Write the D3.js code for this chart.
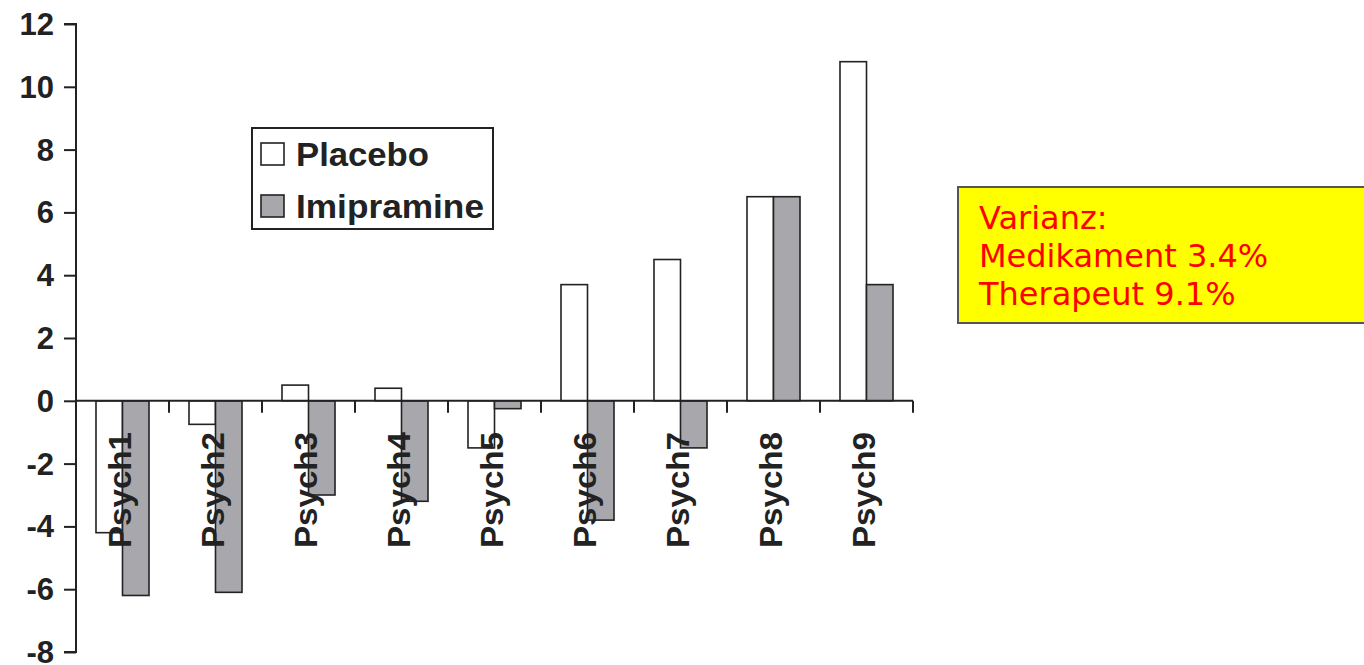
<!DOCTYPE html>
<html>
<head>
<meta charset="utf-8">
<script src="https://cdn.jsdelivr.net/npm/d3@7"></script>
<style>
  body { margin: 0; background: #fff; }
  svg { display: block; }
</style>
</head>
<body>
<div id="chart"></div>
<script>
// data
const categories = ["Psych1", "Psych2", "Psych3", "Psych4", "Psych5", "Psych6", "Psych7", "Psych8", "Psych9"];
const placebo    = [-4.2, -0.75, 0.5, 0.4, -1.5, 3.7, 4.5, 6.5, 10.8];
const imipramine = [-6.2, -6.1, -3.0, -3.2, -0.25, -3.8, -1.5, 6.5, 3.7];
const yTicks = [12, 10, 8, 6, 4, 2, 0, -2, -4, -6, -8];
const seriesNames = ["Placebo", "Imipramine"];
const noteLines = ["Varianz:", "Medikament 3.4%", "Therapeut 9.1%"];

const width = 1364, height = 665;
const colPlacebo = "#ffffff", colImi = "#a8a8ac";

const svg = d3.select("#chart")
  .append("svg")
  .attr("width", width)
  .attr("height", height);

const y = d3.scaleLinear().domain([-8, 12]).range([652, 24]);
const x = d3.scaleBand().domain(categories).range([76, 913]).padding(0);
const barW = x.bandwidth() * 0.285;

// y axis (plain hyphen for negatives, like the original)
const yAxis = svg.append("g")
  .attr("transform", "translate(76,0)")
  .call(d3.axisLeft(y).tickValues(yTicks).tickSize(12).tickPadding(10).tickFormat(d => String(d)));
yAxis.select(".domain").attr("stroke", "#222").attr("stroke-width", 2).attr("d", "M-12," + y(12) + "H0V" + y(-8) + "H-12");
yAxis.selectAll(".tick line").attr("stroke", "#222").attr("stroke-width", 2);
yAxis.selectAll(".tick text")
  .attr("font-family", "Liberation Sans, Arial, sans-serif")
  .attr("font-weight", "bold")
  .attr("font-size", 31)
  .attr("fill", "#222")
  .attr("dy", "0.34em");

// bars
const rows = categories.map((c, i) => ({ c, p: placebo[i], m: imipramine[i] }));

svg.append("g").selectAll("rect")
  .data(rows)
  .join("rect")
  .attr("x", d => x(d.c) + x.bandwidth() / 2 - barW)
  .attr("y", d => y(Math.max(0, d.p)))
  .attr("width", barW)
  .attr("height", d => Math.abs(y(d.p) - y(0)))
  .attr("fill", colPlacebo)
  .attr("stroke", "#222")
  .attr("stroke-width", 1.6);

svg.append("g").selectAll("rect")
  .data(rows)
  .join("rect")
  .attr("x", d => x(d.c) + x.bandwidth() / 2)
  .attr("y", d => y(Math.max(0, d.m)))
  .attr("width", barW)
  .attr("height", d => Math.abs(y(d.m) - y(0)))
  .attr("fill", colImi)
  .attr("stroke", "#222")
  .attr("stroke-width", 1.6);

// x axis at zero, ticks pointing down between categories
const xAxis = svg.append("g").attr("transform", "translate(0," + y(0) + ")");
xAxis.append("line")
  .attr("x1", 76).attr("x2", 913)
  .attr("stroke", "#222").attr("stroke-width", 2);
xAxis.selectAll(".xt")
  .data(categories.slice(1).map(c => x(c)).concat([913]))
  .join("line")
  .attr("class", "xt")
  .attr("x1", d => d).attr("x2", d => d)
  .attr("y1", 0).attr("y2", 12)
  .attr("stroke", "#222").attr("stroke-width", 2);

// rotated category labels
svg.append("g").selectAll("text")
  .data(categories)
  .join("text")
  .attr("transform", d => "translate(" + (x(d) + x.bandwidth() / 2 + 8) + ",548) rotate(-90)")
  .attr("text-anchor", "start")
  .attr("font-family", "Liberation Sans, Arial, sans-serif")
  .attr("font-weight", "bold")
  .attr("font-size", 31)
  .attr("fill", "#222")
  .attr("textLength", 116)
  .attr("lengthAdjust", "spacingAndGlyphs")
  .text(d => d);

// legend
const legend = svg.append("g");
legend.append("rect")
  .attr("x", 252).attr("y", 128).attr("width", 241).attr("height", 101)
  .attr("fill", "#fff").attr("stroke", "#222").attr("stroke-width", 2);
const legWidths = [133, 188];
const legItems = legend.selectAll("g.li")
  .data(seriesNames)
  .join("g")
  .attr("class", "li")
  .attr("transform", (d, i) => "translate(0," + (i * 52) + ")");
legItems.append("rect")
  .attr("x", 261).attr("y", 143).attr("width", 23).attr("height", 22)
  .attr("fill", (d, i) => i === 0 ? colPlacebo : colImi)
  .attr("stroke", "#222").attr("stroke-width", 1.6);
legItems.append("text")
  .attr("x", 296).attr("y", 166)
  .attr("font-family", "Liberation Sans, Arial, sans-serif")
  .attr("font-weight", "bold")
  .attr("font-size", 33)
  .attr("fill", "#222")
  .attr("textLength", (d, i) => legWidths[i])
  .attr("lengthAdjust", "spacingAndGlyphs")
  .text(d => d);

// yellow note box
const note = svg.append("g");
note.append("rect")
  .attr("x", 958).attr("y", 187).attr("width", 420).attr("height", 136)
  .attr("fill", "#ffff00").attr("stroke", "#555").attr("stroke-width", 2);
note.selectAll("text")
  .data(noteLines)
  .join("text")
  .attr("x", 979)
  .attr("y", (d, i) => 229 + i * 38)
  .attr("font-family", "DejaVu Sans, Verdana, sans-serif")
  .attr("font-size", 32)
  .attr("fill", "#ff0000")
  .text(d => d);
</script>
</body>
</html>
